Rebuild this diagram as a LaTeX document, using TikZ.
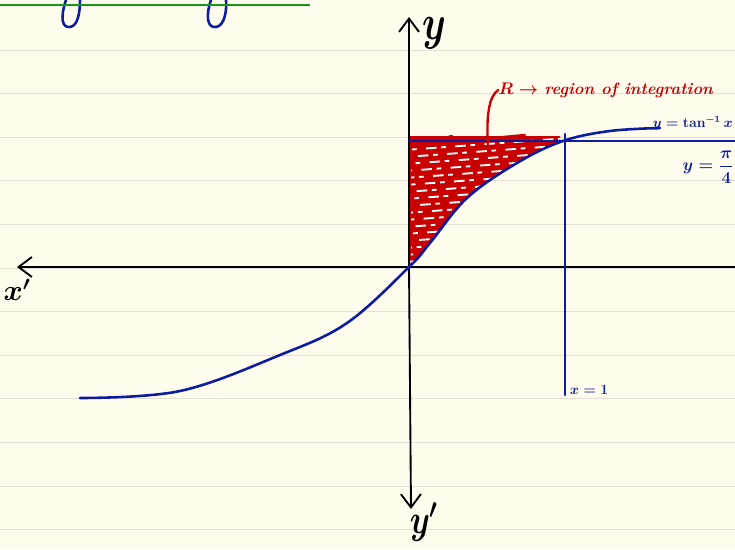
\documentclass[tikz,border=0pt]{standalone}
\usepackage{amsmath}
\usepackage{graphicx}
\usepackage{xcolor}
\definecolor{paper}{RGB}{255,252,238}
\definecolor{ruling}{RGB}{228,225,212}
\definecolor{inkblue}{RGB}{12,28,160}
\definecolor{inkred}{RGB}{200,0,0}
\definecolor{inkgreen}{RGB}{25,150,25}
\usepackage{tikz}
\usetikzlibrary{arrows.meta, positioning, calc}

\begin{document}
\begin{tikzpicture}[x=0.3mm, y=-0.3mm,
  axis/.style={line width=1.6pt, black, line cap=round},
  barb/.style={-{Straight Barb[length=4mm, width=6mm]}},
  pen/.style={line width=2.2pt, inkblue, line cap=round},
  redpen/.style={line width=2pt, inkred, line cap=round},
  bluelbl/.style={inkblue, inner sep=0pt},
  blacklbl/.style={black, inner sep=0pt, font=\fontsize{24}{24}\selectfont}
]
\useasboundingbox (0,0) rectangle (735,549);
\fill[paper] (0,0) rectangle (735,549);
\foreach \i in {0,...,11}
  \draw[ruling, line width=0.8pt] (0,{50+43.6*\i}) -- (735,{50+43.6*\i});

\draw[pen] (66,0) .. controls (60,18) and (62,28) .. (70,27) .. controls (78,26) and (80,12) .. (80,0);
\draw[pen] (211,0) .. controls (205,18) and (208,28) .. (216,27) .. controls (224,26) and (227,12) .. (226,0);
\draw[inkgreen, line width=2.5pt] (0,5) -- (310,5);

\coordinate (O) at (409,267);
\coordinate (ytop) at (409,17);
\coordinate (ybot) at (411,509);
\coordinate (xleft) at (17,267);
\coordinate (xright) at (735,267);
\coordinate (topL) at (409,141);
\coordinate (topR) at (735,141);
\coordinate (vTop) at (565,134);
\coordinate (vBot) at (565,395);

\begin{scope}
  \clip (409,137) rectangle (560,267);
  \clip plot[smooth, tension=0.6] coordinates {(80,398) (180,391) (280,355) (347,323) (409,267) (430,243) (467,198) (517,163) (563,141) (610,131) (660,128)}
    -- (660,60) -- (80,60) -- cycle;
  \fill[inkred] (400,130) rectangle (570,270);
  \foreach \yy [count=\k] in {146,153,...,265} {
    \pgfmathsetmacro\ph{mod(7*\k,17)}
    \draw[white, line width=1.6pt, dash pattern=on 9pt off 4pt on 4pt off 8pt, dash phase=\ph pt]
      (405,\yy+4) -- (570,\yy-8);
  }
\end{scope}
\draw[redpen] (413,146) -- (452,136) (470,140) -- (525,135);
\draw[redpen] (410,150) -- (410,255);

\draw[axis, barb] (O) -- (ytop);
\draw[axis, barb] (O) -- (ybot);
\draw[axis, barb] (xright) -- (xleft);

\draw[pen] (topL) -- (topR);
\draw[pen] (vTop) -- (vBot);
\draw[pen] plot[smooth, tension=0.6] coordinates {(80,398) (180,391) (280,355) (347,323) (409,267) (430,243) (467,198) (517,163) (563,141) (610,131) (660,128)};

\node[blacklbl] (ylbl) at (434,33) {\scalebox{1.3}[1.7]{$\boldsymbol{y}$}};
\node[blacklbl] (ylbl2) at (424,522) {\scalebox{1.1}[1.4]{$\boldsymbol{y'}$}};
\node[blacklbl] (xlbl) at (17,290) {$\boldsymbol{x'}$};

\node[bluelbl, anchor=east, font=\fontsize{12}{12}\selectfont] (curvelbl) at (733,123) {$\boldsymbol{y=\tan^{-1}x}$};
\node[bluelbl, anchor=east, font=\fontsize{14}{14}\selectfont] (linelbl) at (734,167) {$\boldsymbol{y=\dfrac{\pi}{4}}$};
\node[bluelbl, font=\fontsize{12}{12}\selectfont] (vlbl) at (589,390) {$\boldsymbol{x=1}$};

\node[inkred, inner sep=0pt, font=\fontsize{14}{14}\selectfont\bfseries] (rnote) at (606,90) {$\boldsymbol{R\to}$ \textit{region of integration}};
\coordinate (rin) at (488,148);
\draw[redpen] (rnote.west) .. controls (489,96) and (486,115) .. (rin);
\end{tikzpicture}
\end{document}
